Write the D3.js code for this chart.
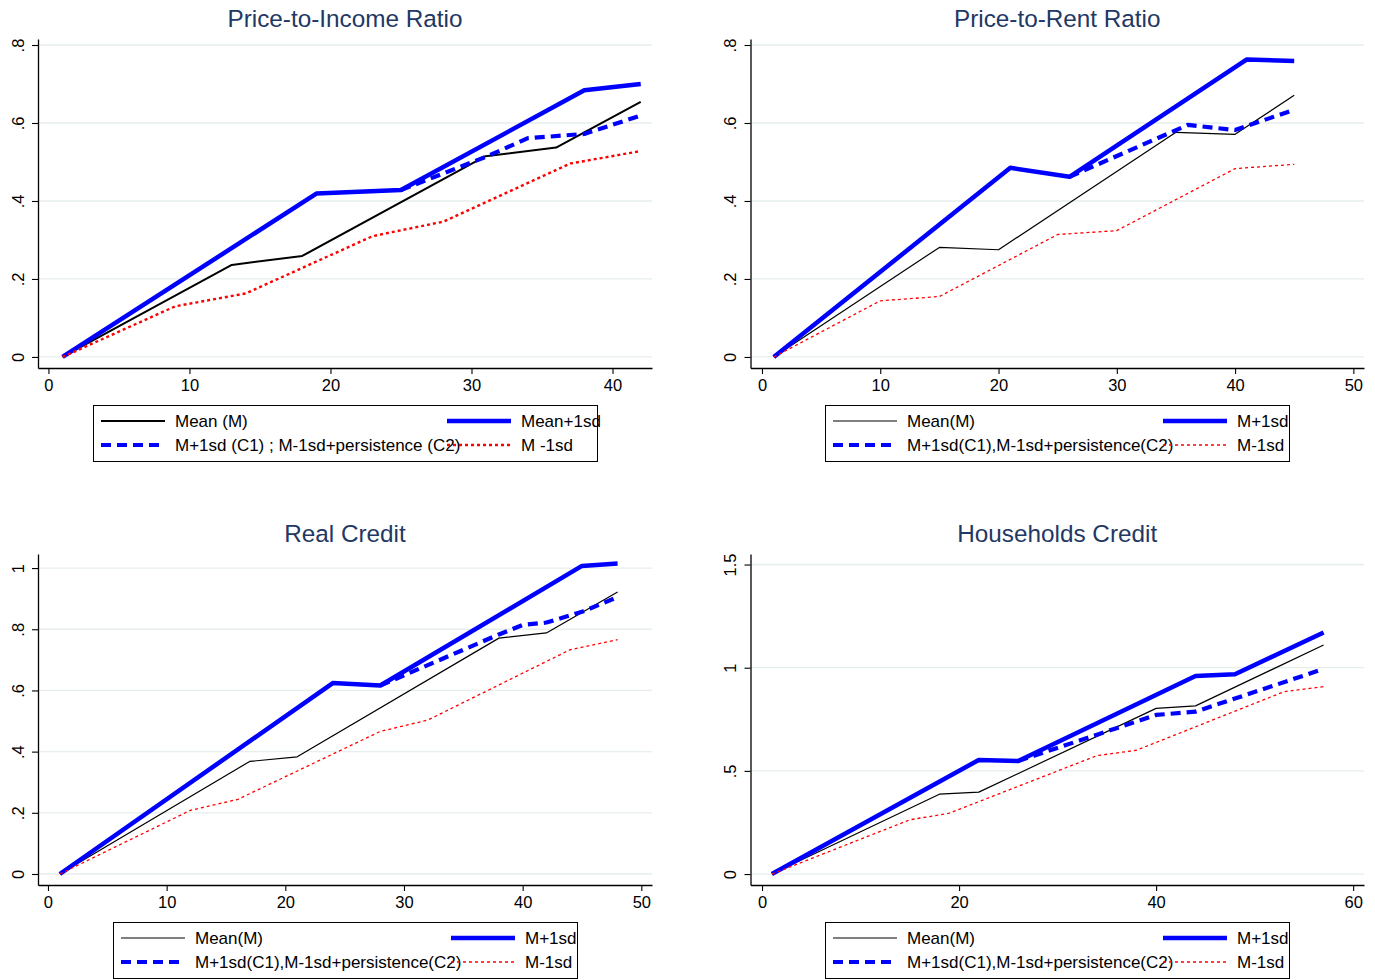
<!DOCTYPE html>
<html>
<head>
<meta charset="utf-8">
<script src="https://cdn.jsdelivr.net/npm/d3@7"></script>
<style>
  body { margin: 0; background: #fff; }
  svg { display: block; font-family: Arial, "Liberation Sans", sans-serif; }
</style>
</head>
<body>
<svg id="chart" width="1375" height="980"></svg>
<script>
// ---- Data: cumulative response paths, [horizon, value] ----
// Price-to-Income Ratio
const pirMean    = [[1,0],[13,0.236],[18,0.259],[31,0.515],[36,0.537],[42,0.654]];
const pirPlus    = [[1,0],[19,0.419],[25,0.428],[38,0.684],[42,0.700]];
const pirPersist = [[25,0.428],[31,0.513],[34,0.561],[38,0.572],[42,0.619]];
const pirMinus   = [[1,0],[9,0.130],[14,0.163],[23,0.310],[28,0.347],[37,0.496],[42,0.528]];
// Price-to-Rent Ratio
const prrMean    = [[1,0],[15,0.281],[20,0.275],[35,0.576],[40,0.571],[45,0.671]];
const prrPlus    = [[1,0],[21,0.485],[26,0.462],[41,0.763],[45,0.759]];
const prrPersist = [[26,0.462],[36,0.595],[40,0.582],[45,0.634]];
const prrMinus   = [[1,0],[10,0.144],[15,0.155],[25,0.314],[30,0.324],[40,0.483],[45,0.494]];
// Real Credit
const rcMean     = [[1,0],[17,0.368],[21,0.383],[38,0.771],[42,0.788],[48,0.922]];
const rcPlus     = [[1,0],[24,0.624],[28,0.616],[45,1.007],[48,1.015]];
const rcPersist  = [[28,0.616],[38,0.783],[40,0.814],[42,0.822],[45,0.857],[48,0.905]];
const rcMinus    = [[1,0],[12,0.208],[16,0.244],[28,0.466],[32,0.503],[44,0.733],[48,0.766]];
// Households Credit
const hcMean     = [[1,0],[18,0.387],[22,0.397],[40,0.803],[44,0.815],[57,1.110]];
const hcPlus     = [[1,0],[22,0.553],[26,0.548],[44,0.960],[48,0.968],[57,1.171]];
const hcPersist  = [[26,0.548],[40,0.771],[44,0.787],[57,0.994]];
const hcMinus    = [[1,0],[15,0.263],[19,0.295],[34,0.574],[38,0.600],[53,0.884],[57,0.908]];

// Titles, ticks and legend labels
const titles = ["Price-to-Income Ratio", "Price-to-Rent Ratio", "Real Credit", "Households Credit"];
const xTicksA = [0, 10, 20, 30, 40];
const xTicksB = [0, 10, 20, 30, 40, 50];
const xTicksC = [0, 20, 40, 60];
const yTicksA = [0, 0.2, 0.4, 0.6, 0.8];
const yTicksB = [0, 0.2, 0.4, 0.6, 0.8, 1];
const yTicksC = [0, 0.5, 1, 1.5];
const legendA = ["Mean (M)", "Mean+1sd", "M+1sd (C1) ; M-1sd+persistence (C2)", "M -1sd"];
const legendB = ["Mean(M)", "M+1sd", "M+1sd(C1),M-1sd+persistence(C2)", "M-1sd"];

// ---- Panel layout ----
const panels = [
  { title: titles[0], left: 38, right: 652, top: 39, bottom: 368, xDom: [-0.74, 42.8], yDom: [-0.0283, 0.8154],
    xTicks: xTicksA, yTicks: yTicksA, series: [pirMean, pirPlus, pirPersist, pirMinus],
    meanW: 2, minusW: 2.4, minusDash: "3,3",
    legend: { labels: legendA, x: 93, y: 405, w: 504, h: 56, sampleX: [101, 447], textX: [175, 521] } },
  { title: titles[1], left: 750.5, right: 1364, top: 39, bottom: 368, xDom: [-0.97, 50.9], yDom: [-0.0283, 0.8154],
    xTicks: xTicksB, yTicks: yTicksA, series: [prrMean, prrPlus, prrPersist, prrMinus],
    meanW: 1.2, minusW: 1.3, minusDash: "3,3",
    legend: { labels: legendB, x: 825, y: 405, w: 464, h: 56, sampleX: [833, 1163], textX: [907, 1237] } },
  { title: titles[2], left: 38, right: 652, top: 554, bottom: 885, xDom: [-0.84, 50.9], yDom: [-0.036, 1.046],
    xTicks: xTicksB, yTicks: yTicksB, series: [rcMean, rcPlus, rcPersist, rcMinus],
    meanW: 1.2, minusW: 1.3, minusDash: "3,3",
    legend: { labels: legendB, x: 113, y: 922, w: 464, h: 56, sampleX: [121, 451], textX: [195, 525] } },
  { title: titles[3], left: 750.5, right: 1364, top: 554, bottom: 885, xDom: [-1.17, 61.1], yDom: [-0.053, 1.551],
    xTicks: xTicksC, yTicks: yTicksC, series: [hcMean, hcPlus, hcPersist, hcMinus],
    meanW: 1.2, minusW: 1.3, minusDash: "3,3",
    legend: { labels: legendB, x: 825, y: 922, w: 464, h: 56, sampleX: [833, 1163], textX: [907, 1237] } }
];

const BLUE = "#0000ff", RED = "#ff0000", TITLE = "#1f3864", GRID = "#e6eeee";
const fmtY = d => d === 0 ? "0" : String(d).replace(/^0\./, ".");

const svg = d3.select("#chart");
svg.append("rect").attr("width", 1375).attr("height", 980).attr("fill", "#fff");

panels.forEach(p => {
  const g = svg.append("g");
  const x = d3.scaleLinear().domain(p.xDom).range([p.left, p.right]);
  const y = d3.scaleLinear().domain(p.yDom).range([p.bottom, p.top]);

  // title
  g.append("text")
    .attr("x", (p.left + p.right) / 2).attr("y", p.top - 12)
    .attr("text-anchor", "middle").attr("font-size", 24.3).attr("fill", TITLE)
    .text(p.title);

  // gridlines
  g.append("g").selectAll("line").data(p.yTicks).join("line")
    .attr("x1", p.left).attr("x2", p.right)
    .attr("y1", d => y(d)).attr("y2", d => y(d))
    .attr("stroke", GRID).attr("stroke-width", 1.3);

  // y axis
  const ya = g.append("g").attr("transform", `translate(${p.left},0)`)
    .call(d3.axisLeft(y).tickValues(p.yTicks).tickFormat(fmtY).tickSize(6).tickSizeOuter(0));
  ya.selectAll("text")
    .attr("transform", "rotate(-90)").attr("x", 0).attr("y", -14.5).attr("dy", 0)
    .attr("text-anchor", "middle").attr("font-size", 16.5).attr("fill", "#000")
    .attr("font-family", "Arial, 'Liberation Sans', sans-serif");

  // x axis
  const xa = g.append("g").attr("transform", `translate(0,${p.bottom})`)
    .call(d3.axisBottom(x).tickValues(p.xTicks).tickFormat(d3.format("d")).tickSize(6).tickSizeOuter(0).tickPadding(5));
  xa.selectAll("text").attr("font-size", 16.5).attr("fill", "#000")
    .attr("font-family", "Arial, 'Liberation Sans', sans-serif");

  [ya, xa].forEach(a => {
    a.select(".domain").attr("stroke", "#000").attr("stroke-width", 1.3);
    a.selectAll(".tick line").attr("stroke", "#000").attr("stroke-width", 1.1);
  });

  const line = d3.line().x(d => x(d[0])).y(d => y(d[1]));
  const styles = [
    { color: "#000", width: p.meanW, dash: null },
    { color: BLUE, width: 4.5, dash: null },
    { color: BLUE, width: 4.2, dash: "10,6" },
    { color: RED, width: p.minusW, dash: p.minusDash }
  ];

  p.series.forEach((s, i) => {
    g.append("path").datum(s).attr("d", line)
      .attr("fill", "none").attr("stroke", styles[i].color)
      .attr("stroke-width", styles[i].width)
      .attr("stroke-dasharray", styles[i].dash)
      .attr("stroke-linejoin", "round");
  });

  // legend
  const L = p.legend;
  g.append("rect").attr("x", L.x + 0.5).attr("y", L.y + 0.5).attr("width", L.w).attr("height", L.h)
    .attr("fill", "#fff").attr("stroke", "#000").attr("stroke-width", 1);
  const rows = [L.y + 16, L.y + 40];
  const slots = [[0, 0], [1, 0], [0, 1], [1, 1]];
  L.labels.forEach((lab, i) => {
    const col = slots[i][0], row = slots[i][1];
    g.append("line")
      .attr("x1", L.sampleX[col]).attr("x2", L.sampleX[col] + 64)
      .attr("y1", rows[row]).attr("y2", rows[row])
      .attr("stroke", styles[i].color)
      .attr("stroke-width", i === 3 ? Math.max(styles[i].width, 1.4) : styles[i].width)
      .attr("stroke-dasharray", styles[i].dash);
    g.append("text").attr("x", L.textX[col]).attr("y", rows[row]).attr("dy", "0.36em")
      .attr("font-size", 17).attr("fill", "#000").text(lab);
  });
});
</script>
</body>
</html>
